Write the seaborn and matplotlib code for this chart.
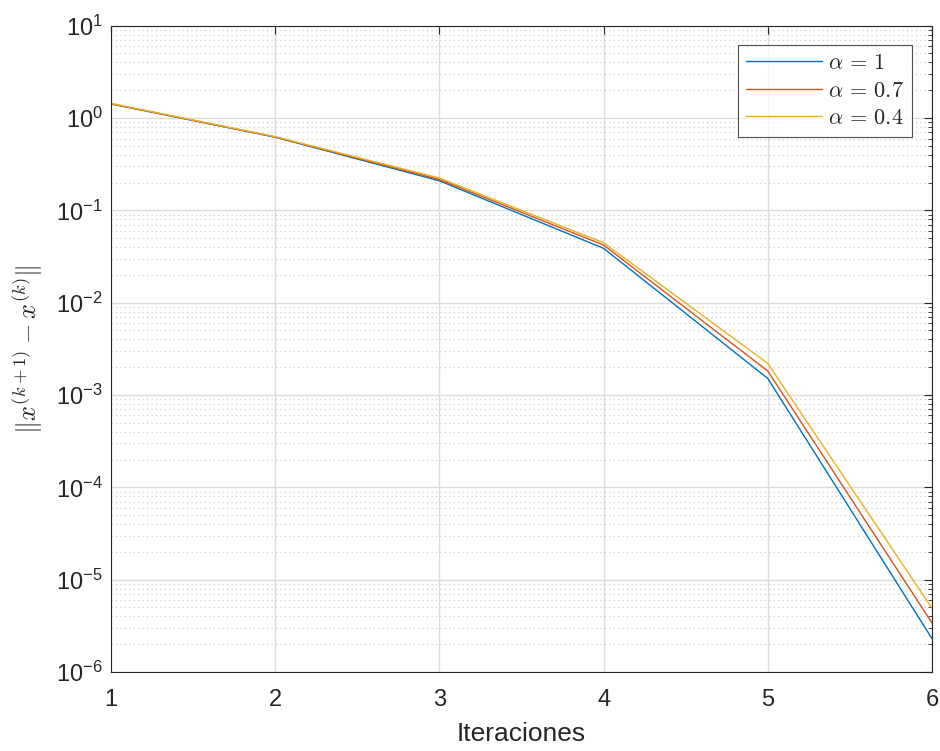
import numpy as np
import pandas as pd
import matplotlib
matplotlib.use("Agg")
import matplotlib.pyplot as plt
import seaborn as sns
from matplotlib.ticker import FixedLocator, NullFormatter, LogFormatterSciNotation

iterations = [1, 2, 3, 4, 5, 6]
err_a1 = [1.42, 0.620, 0.209, 0.0388, 0.00151, 2.3e-6]
err_a07 = [1.43, 0.624, 0.216, 0.0421, 0.00182, 3.4e-6]
err_a04 = [1.44, 0.628, 0.224, 0.0446, 0.00220, 4.9e-6]
labels = [r"$\alpha\,=\,1$", r"$\alpha\,=\,0.7$", r"$\alpha\,=\,0.4$"]
colors = ["#0072BD", "#D95319", "#EDB120"]
y_major = [1e-6, 1e-5, 1e-4, 1e-3, 1e-2, 1e-1, 1e0, 1e1]

df = pd.concat([
    pd.DataFrame({"it": iterations, "err": e, "serie": lab})
    for e, lab in zip([err_a1, err_a07, err_a04], labels)
])

sns.set_style("white")
plt.rcParams['font.family'] = ['Liberation Sans', 'DejaVu Sans']
plt.rcParams['mathtext.fontset'] = 'cm'

fig = plt.figure(figsize=(9.4, 7.51), dpi=100)
ax = fig.add_axes([111 / 940, 79 / 751, 821 / 940, 646.3 / 751])

sns.lineplot(data=df, x="it", y="err", hue="serie", palette=colors,
             linewidth=1.0, ax=ax, legend=True)
ax.set_yscale("log")
ax.set_xlim(1, 6)
ax.set_ylim(1e-6, 1e1)
ax.set_xticks(iterations)
ax.yaxis.set_major_locator(FixedLocator(y_major))
ax.yaxis.set_major_formatter(LogFormatterSciNotation())
minor = [m * d for d in y_major[:-1] for m in range(2, 10)]
ax.yaxis.set_minor_locator(FixedLocator(minor))
ax.yaxis.set_minor_formatter(NullFormatter())

ax.grid(True, which="major", color="#dcdcdc", linewidth=1.0, linestyle="-")
ax.grid(True, which="minor", axis="y", color="#c8c8c8", linewidth=0.8, linestyle=(0, (1, 3)))
ax.set_axisbelow(True)

for s in ax.spines.values():
    s.set_color("#262626")
    s.set_linewidth(0.8)
ax.tick_params(axis="both", which="both", direction="in", top=True, right=True,
               color="#262626", labelsize=17, labelcolor="#262626")
ax.tick_params(which="major", length=6)
ax.tick_params(which="minor", length=3)
ax.tick_params(axis="x", pad=12)
ax.tick_params(axis="y", pad=6)

ax.set_xlabel("Iteraciones", fontsize=19, color="#262626", labelpad=8)
ax.set_ylabel(r"$\|x^{(k+1)}-x^{(k)}\|$", fontsize=19, color="#262626", labelpad=8)

handles, labs = ax.get_legend_handles_labels()
leg = ax.legend(handles, labs, loc="upper right", bbox_to_anchor=(0.9756, 0.970),
                borderaxespad=0, fontsize=16, frameon=True, fancybox=False,
                edgecolor="#262626", borderpad=0.35, handlelength=3.4,
                labelspacing=0.3, handletextpad=0.3)
leg.get_frame().set_linewidth(0.8)

fig.savefig("out.png", dpi=100)
